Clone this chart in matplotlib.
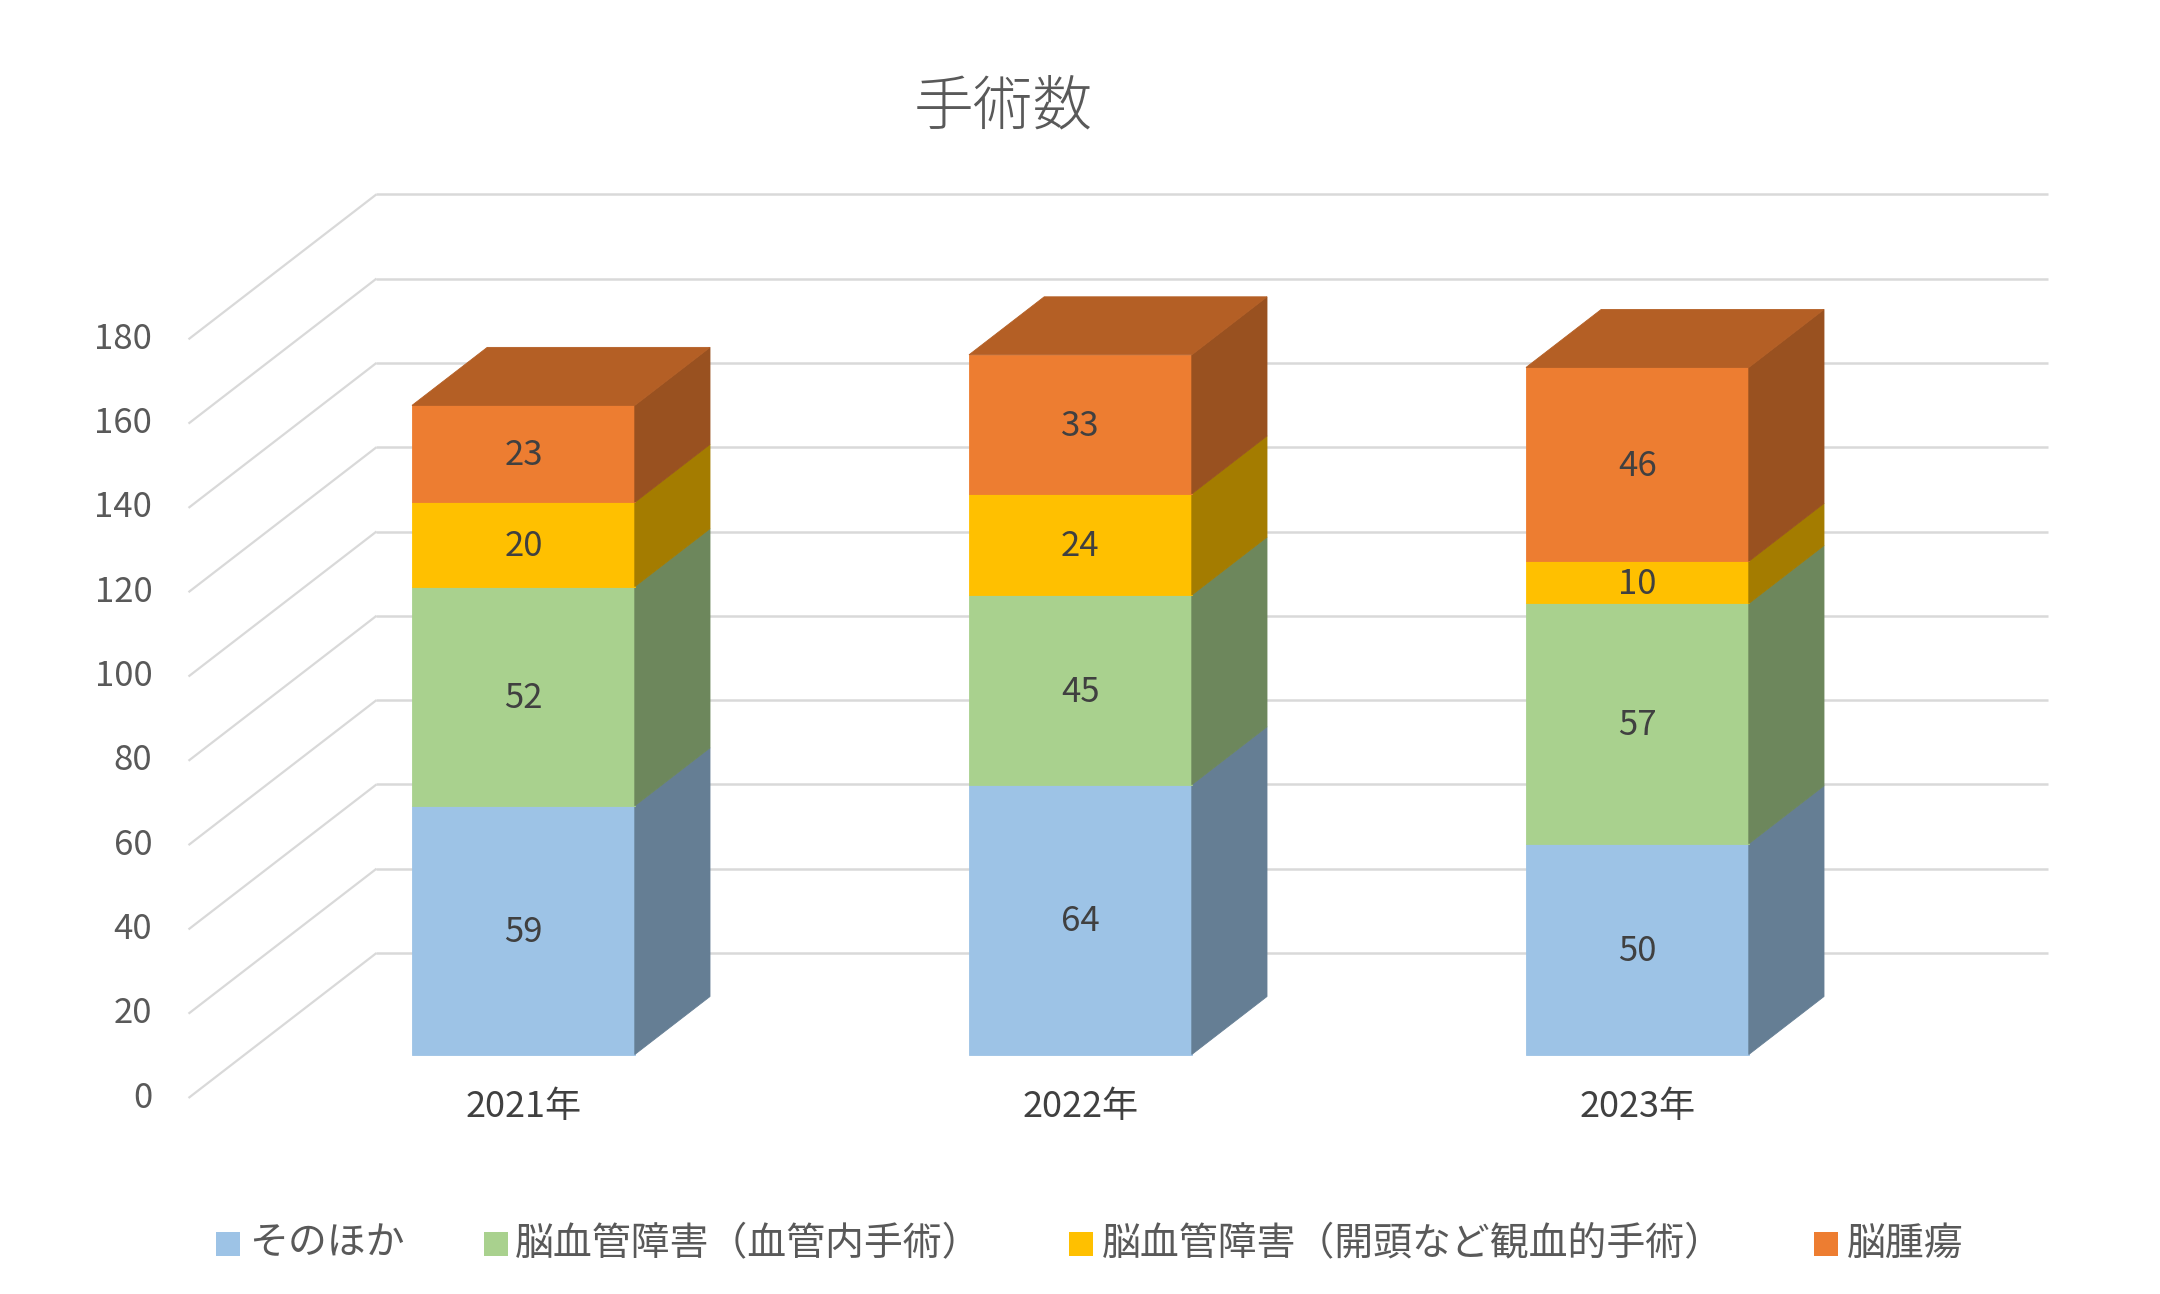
import matplotlib.pyplot as plt
from matplotlib.patches import Polygon, Rectangle
from matplotlib.colors import to_rgb

plt.rcParams['font.family'] = ['Noto Sans CJK JP', 'DejaVu Sans']

# data
years = ['2021年', '2022年', '2023年']
series_names = ['そのほか', '脳血管障害（血管内手術）', '脳血管障害（開頭など観血的手術）', '脳腫瘍']
other = [59, 64, 50]
endovascular = [52, 45, 57]
open_surgery = [20, 24, 10]
tumor = [23, 33, 46]
series = [other, endovascular, open_surgery, tumor]
colors = ['#9DC3E6', '#A9D18E', '#FFC000', '#ED7D31']
yticks = list(range(0, 181, 20))

# fake 3d projection (oblique): depth d in [0, 1]
DX = 188 / 557      # depth shift in category units
DY = 145 / 4.215    # depth shift in value units
D0, D1 = 0.3, 0.7   # bar front / back depth
BW = 0.4            # bar width


def P(x, v, d):
    return (x + d * DX, v + d * DY)


def shade(c, k):
    r, g, b = to_rgb(c)
    return (r * k, g * k, b * k)


fig = plt.figure(figsize=(21.6, 12.94), dpi=100)
ax = fig.add_axes([0, 0, 1, 1])
ax.set_xlim(-467 / 557, (2160 - 467) / 557)
ax.set_ylim(-(1294 - 1098) / 4.215, 1098 / 4.215)
ax.axis('off')

grid_c = '#D9D9D9'
for v in yticks:
    # back wall
    (xa, ya), (xb, yb) = P(-0.5, v, 1), P(2.5, v, 1)
    ax.plot([xa, xb], [ya, yb], color=grid_c, lw=1.8, zorder=1, solid_capstyle='butt')
    # side wall
    (xa, ya), (xb, yb) = P(-0.5, v, 0), P(-0.5, v, 1)
    ax.plot([xa, xb], [ya, yb], color=grid_c, lw=1.6, zorder=1, solid_capstyle='butt')
    ax.text(-0.5 - 0.065, v, str(v), ha='right', va='center', fontsize=25, color='#595959')

for i, year in enumerate(years):
    bottom = 0
    xl, xr = i - BW / 2, i + BW / 2
    for s, vals in enumerate(series):
        top = bottom + vals[i]
        c = colors[s]
        front = [P(xl, bottom, D0), P(xr, bottom, D0), P(xr, top, D0), P(xl, top, D0)]
        side = [P(xr, bottom, D0), P(xr, bottom, D1), P(xr, top, D1), P(xr, top, D0)]
        ax.add_patch(Polygon(front, closed=True, fc=c, ec=c, lw=0.6, zorder=3))
        sc = shade(c, 0.645)
        ax.add_patch(Polygon(side, closed=True, fc=sc, ec=sc, lw=0.6, zorder=3))
        cx, cy = P(i, (bottom + top) / 2, D0)
        ax.text(cx, cy - 0.5, str(vals[i]), ha='center', va='center', fontsize=25,
                color='#404040', zorder=5)
        if s == len(series) - 1:
            # top face only for the last segment
            lid = [P(xl, top, D0), P(xr, top, D0), P(xr, top, D1), P(xl, top, D1)]
            tc = shade(c, 0.76)
            ax.add_patch(Polygon(lid, closed=True, fc=tc, ec=tc, lw=0.6, zorder=4))
        bottom = top
    lx = P(i, 0, D0)[0]
    ax.text(lx, -2.2, year, ha='center', va='center', fontsize=26, color='#404040')

fig.text(1003 / 2160, 1 - 108 / 1294, '手術数', ha='center', va='center',
         fontsize=43, color='#595959', fontweight='light')

# legend
sq_left = [216, 484, 1069, 1814]
txt_left = [249, 515, 1102, 1847]
ly = 1 - 1244 / 1294
for name, c, sx, tx in zip(series_names, colors, sq_left, txt_left):
    fig.patches.append(Rectangle((sx / 2160, ly - 12 / 1294), 24 / 2160, 24 / 1294,
                                 transform=fig.transFigure, fc=c, ec='none'))
    fig.text(tx / 2160, ly, name, ha='left', va='center', fontsize=28, color='#595959')

fig.savefig('out.png', dpi=100)
